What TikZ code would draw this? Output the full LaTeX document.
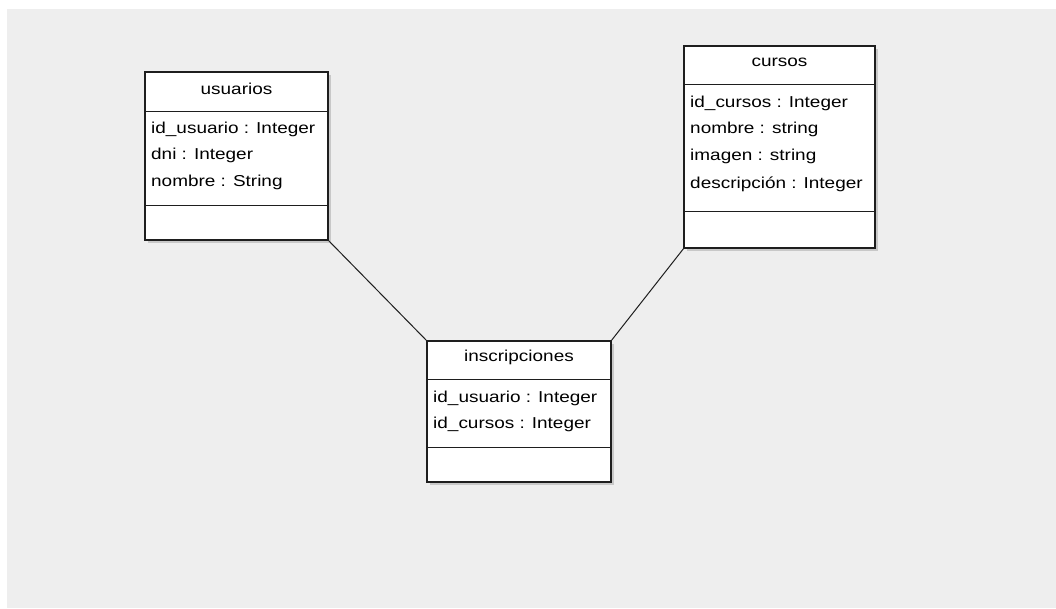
\documentclass[tikz,border=0pt]{standalone}
\usepackage{fontspec}
\setmainfont{Liberation Sans}
\usepackage{graphicx}
\definecolor{canvas}{HTML}{EEEEEE}
\definecolor{edge}{HTML}{1E1E1E}
\definecolor{shade}{HTML}{C8C8C8}
% wide-set label text
\newcommand{\wtext}[1]{\scalebox{1.2}[1]{#1}}
\tikzset{
  classbox/.style={draw=edge, line width=1.4pt, fill=white},
  divider/.style={draw=edge, line width=1pt},
  shadowbox/.style={fill=shade},
  title/.style={anchor=center, inner sep=0pt, font=\fontsize{15.8}{18}\selectfont},
  attr/.style={anchor=base west, inner sep=0pt, font=\fontsize{15.8}{18}\selectfont},
  link/.style={draw=edge, line width=1pt}
}
\begin{document}
\begin{tikzpicture}[x=1pt, y=-1pt]
  \useasboundingbox (0,0) rectangle (1056,608);
  \fill[white] (0,0) rectangle (1056,608);
  \fill[canvas] (7,9) rectangle (1056,608);

  % --- usuarios ---
  \fill[shadowbox] (148,75) rectangle (331,243);
  \draw[classbox] (145,72) rectangle (328,240);
  \draw[divider] (145,111) -- (328,111);
  \draw[divider] (145,205) -- (328,205);
  \coordinate (usuBR) at (328,240);
  \node[title] (usuT) at (236.5,89) {\wtext{usuarios}};
  \node[attr] (usuA1) at (151,133) {\wtext{id\_usuario : Integer}};
  \node[attr] (usuA2) at (151,159.5) {\wtext{dni : Integer}};
  \node[attr] (usuA3) at (151,186) {\wtext{nombre : String}};

  % --- cursos ---
  \fill[shadowbox] (687,49) rectangle (878,251);
  \draw[classbox] (684,46) rectangle (875,248);
  \draw[divider] (684,84) -- (875,84);
  \draw[divider] (684,211) -- (875,211);
  \coordinate (curBL) at (684,248);
  \node[title] (curT) at (779.5,62) {\wtext{cursos}};
  \node[attr] (curA1) at (690,107) {\wtext{id\_cursos : Integer}};
  \node[attr] (curA2) at (690,133.5) {\wtext{nombre : string}};
  \node[attr] (curA3) at (690,160) {\wtext{imagen : string}};
  \node[attr] (curA4) at (690,188) {\wtext{descripción : Integer}};

  % --- inscripciones ---
  \fill[shadowbox] (430,344) rectangle (614,485);
  \draw[classbox] (427,341) rectangle (611,482);
  \draw[divider] (427,379) -- (611,379);
  \draw[divider] (427,447) -- (611,447);
  \coordinate (insTL) at (427,341);
  \coordinate (insTR) at (611,341);
  \node[title] (insT) at (519,357) {\wtext{inscripciones}};
  \node[attr] (insA1) at (433,402) {\wtext{id\_usuario : Integer}};
  \node[attr] (insA2) at (433,428.5) {\wtext{id\_cursos : Integer}};

  % --- associations ---
  \draw[link] (usuBR) -- (insTL);
  \draw[link] (curBL) -- (insTR);
\end{tikzpicture}
\end{document}
